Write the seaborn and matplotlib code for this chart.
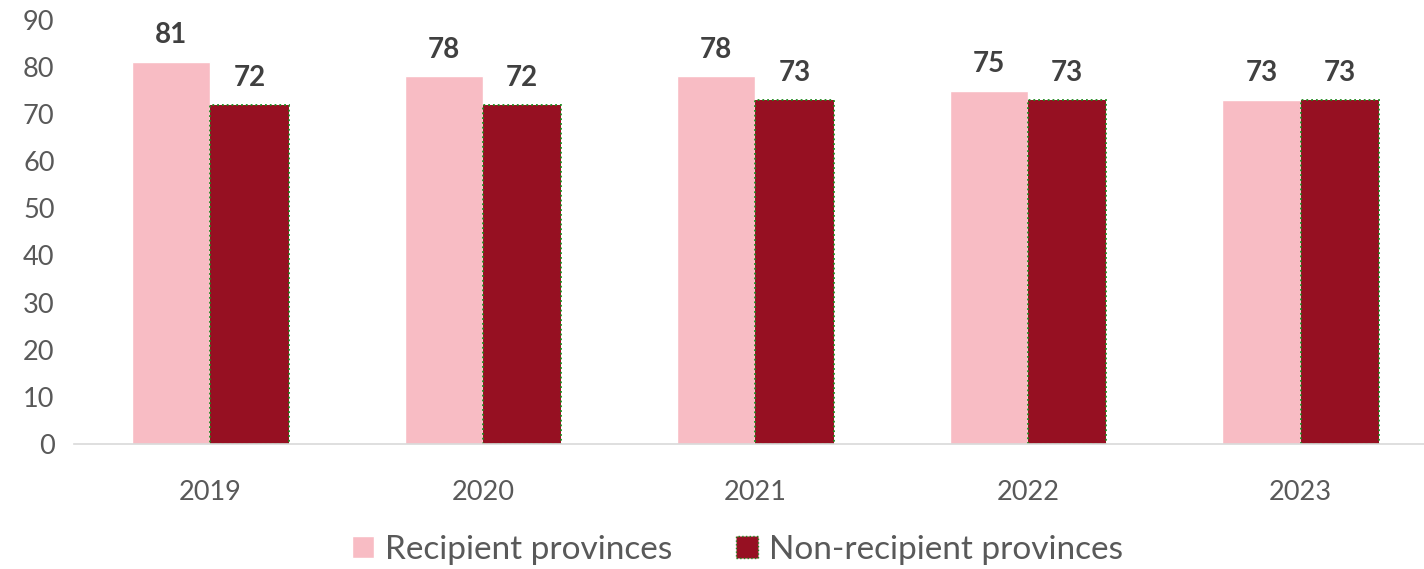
import matplotlib
matplotlib.use('Agg')
import matplotlib.pyplot as plt
import seaborn as sns
import pandas as pd

years = ['2019', '2020', '2021', '2022', '2023']
recipient = [81, 78, 78, 75, 73]
non_recipient = [72, 72, 73, 73, 73]
series_names = ['Recipient provinces', 'Non-recipient provinces']
colors = ['#F8BCC4', '#961022']

df = pd.DataFrame({
    'year': years * 2,
    'value': recipient + non_recipient,
    'group': [series_names[0]] * 5 + [series_names[1]] * 5,
})

sns.set_style('white')
plt.rcParams['font.family'] = ['Lato', 'DejaVu Sans']

fig = plt.figure(figsize=(14.24, 5.69), dpi=100)
ax = fig.add_axes([0.052, 0.22, 0.957, 0.745])

sns.barplot(data=df, x='year', y='value', hue='group', palette=colors,
            width=0.574, saturation=1, ax=ax, legend=True)

# dotted green outline on the dark series
for bar in ax.containers[1]:
    bar.set_edgecolor('#1E8A1E')
    bar.set_linestyle(':')
    bar.set_linewidth(1.3)

for cont in ax.containers:
    ax.bar_label(cont, padding=10, fontsize=20, fontweight='bold', color='#404040')

ax.set_ylim(0, 90)
ax.set_yticks(range(0, 91, 10))
ax.set_xlabel('')
ax.set_ylabel('')
ax.tick_params(axis='both', labelsize=19.5, colors='#595959', length=0)
ax.tick_params(axis='x', pad=26)
ax.tick_params(axis='y', pad=14)
for s in ['top', 'right', 'left']:
    ax.spines[s].set_visible(False)
ax.spines['bottom'].set_color('#D9D9D9')
ax.spines['bottom'].set_linewidth(1.2)

handles, labels = ax.get_legend_handles_labels()
handles[1].set_edgecolor('#1E8A1E')
handles[1].set_linestyle(':')
ax.legend(handles, labels, loc='center', bbox_to_anchor=(0.487, -0.25),
          ncol=2, frameon=False, fontsize=24, labelcolor='#595959',
          handlelength=0.65, handleheight=0.65, handletextpad=0.35, columnspacing=1.9)

fig.savefig('out.png', dpi=100)
